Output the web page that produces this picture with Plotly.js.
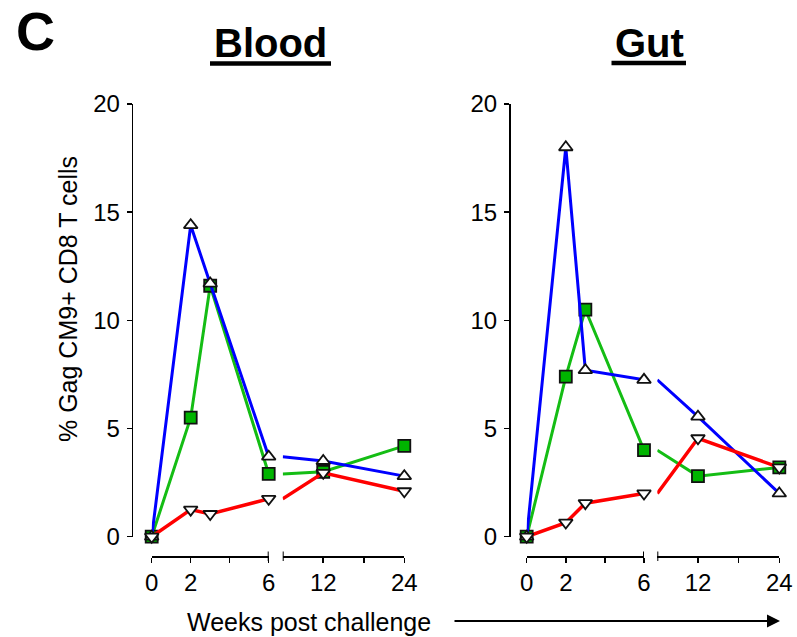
<!DOCTYPE html>
<html>
<head>
<meta charset="utf-8">
<script src="https://cdn.plot.ly/plotly-3.0.1.min.js"></script>
<style>html,body{margin:0;padding:0;background:#fff;}#chart{width:797px;height:637px;}</style>
</head>
<body>
<div id="chart"></div>
<script>
// ---- data ----
var weeks = [0, 2, 3, 6, 12, 24];
var bloodBlue  = [0, 14.4, 11.7, 3.7, 3.5, 2.8];
var bloodGreen = [0, 5.5, 11.6, 2.9, 3.0, 4.2];
var bloodRed   = [0, 1.25, 1.05, 1.75, 2.95, 2.1];
var gutBlue    = [0, 18.0, 7.7, 7.25, 5.55, 2.0];
var gutGreen   = [0, 7.4, 10.5, 4.0, 2.8, 3.2];
var gutRed     = [0, 0.65, 1.55, 2.0, 4.55, 3.2];
var yTicks = [0, 5, 10, 15, 20];
var earlyTicks = [0, 2, 4, 6];
var earlyText = ['0', '2', '', '6'];
var lateTicks = [12, 18, 24];
var lateText = ['12', '', '24'];
var breakWeek = 6;
var panelTitles = ['Blood', 'Gut'];
var yTitle = '% Gag CM9+ CD8 T cells';
var xTitle = 'Weeks post challenge';

// ---- styles ----
var W = 797, H = 637;
var FONT = 'Liberation Sans, Arial, sans-serif';
var BLUE = '#0000ff', RED = '#ff0000', GREEN = '#14bd14', GREENFILL = '#00b400';
function px(x){ return x / W; }
function py(y){ return 1 - y / H; }

var styles = {
  green: {line: GREEN, symbol: 'square', fill: GREENFILL, size: 12, width: 3},
  blue:  {line: BLUE, symbol: 'triangle-up', fill: '#ffffff', size: 12, width: 3},
  red:   {line: RED, symbol: 'triangle-down', fill: '#ffffff', size: 12, width: 3.5}
};

function segTraces(vals, st, xa1, xa2, ya) {
  var x1 = [], y1 = [], x2 = [], y2 = [], op2 = [];
  for (var i = 0; i < weeks.length; i++) {
    if (weeks[i] <= breakWeek) { x1.push(weeks[i]); y1.push(vals[i]); }
    if (weeks[i] >= breakWeek) { x2.push(weeks[i]); y2.push(vals[i]); op2.push(weeks[i] === breakWeek ? 0 : 1); }
  }
  var mk = {symbol: st.symbol, size: st.size, color: st.fill, line: {color: '#111', width: 1.8}};
  return [
    {x: x1, y: y1, xaxis: xa1, yaxis: ya, mode: 'lines+markers', cliponaxis: false,
     line: {color: st.line, width: st.width}, marker: mk, showlegend: false, hoverinfo: 'skip'},
    {x: x2, y: y2, xaxis: xa2, yaxis: ya, mode: 'lines+markers', cliponaxis: false,
     line: {color: st.line, width: st.width},
     marker: Object.assign({}, mk, {opacity: op2}), showlegend: false, hoverinfo: 'skip'}
  ];
}

var traces = []
  .concat(segTraces(bloodGreen, styles.green, 'x', 'x2', 'y'))
  .concat(segTraces(bloodBlue, styles.blue, 'x', 'x2', 'y'))
  .concat(segTraces(bloodRed, styles.red, 'x', 'x2', 'y'))
  .concat(segTraces(gutGreen, styles.green, 'x3', 'x4', 'y2'))
  .concat(segTraces(gutBlue, styles.blue, 'x3', 'x4', 'y2'))
  .concat(segTraces(gutRed, styles.red, 'x3', 'x4', 'y2'));

var yDom = [py(536.7), py(104)];
var xPos = py(556);
function xAxis(dom, range, tv, tt) {
  return {domain: dom, range: range, anchor: 'free', position: xPos,
    showline: true, linecolor: '#000', linewidth: 1.5, ticks: 'outside', ticklen: 5,
    tickwidth: 1.5, tickcolor: '#000', tickvals: tv, ticktext: tt,
    showgrid: false, zeroline: false, fixedrange: true,
    tickfont: {family: FONT, size: 24, color: '#000'}};
}
function yAxis(pos) {
  return {domain: yDom, range: [0, 20], anchor: 'free', position: pos,
    showline: true, linecolor: '#000', linewidth: 1.5, ticks: 'outside', ticklen: 5,
    tickwidth: 1.5, tickcolor: '#000', tickvals: yTicks, ticktext: yTicks.map(String),
    showgrid: false, zeroline: false, fixedrange: true, ticklabelstandoff: 2,
    tickfont: {family: FONT, size: 24, color: '#000'}};
}

var breakShapes = [];
[['x', 'x2'], ['x3', 'x4']].forEach(function(p){
  p.forEach(function(xr){
    breakShapes.push({type: 'line', xref: xr, yref: 'paper', x0: breakWeek, x1: breakWeek,
      y0: py(551.5), y1: py(561), line: {color: '#000', width: 2}});
  });
});

var layout = {
  width: W, height: H,
  margin: {l: 0, r: 0, t: 0, b: 0},
  paper_bgcolor: '#fff', plot_bgcolor: 'rgba(0,0,0,0)',
  showlegend: false,
  xaxis:  xAxis([px(151.7), px(268.7)], [0, 6], earlyTicks, earlyText),
  xaxis2: xAxis([px(282.7), px(404.3)], [6, 24], lateTicks, lateText),
  xaxis3: xAxis([px(526.7), px(644)], [0, 6], earlyTicks, earlyText),
  xaxis4: xAxis([px(657.3), px(779.3)], [6, 24], lateTicks, lateText),
  yaxis:  yAxis(px(131.7)),
  yaxis2: yAxis(px(509)),
  shapes: breakShapes.concat([
    {type: 'line', xref: 'paper', yref: 'paper', x0: px(210), x1: px(331), y0: py(63.5), y1: py(63.5), line: {color: '#000', width: 4.5}},
    {type: 'line', xref: 'paper', yref: 'paper', x0: px(611.5), x1: px(686), y0: py(63), y1: py(63), line: {color: '#000', width: 4.5}}
  ]),
  annotations: [
    {text: '<b>C</b>', xref: 'paper', yref: 'paper', x: px(35), y: py(31), xanchor: 'center', yanchor: 'middle', showarrow: false,
     font: {family: FONT, size: 54, color: '#000'}},
    {text: '<b>' + panelTitles[0] + '</b>', xref: 'paper', yref: 'paper', x: px(270.5), y: py(43), xanchor: 'center', yanchor: 'middle', showarrow: false,
     font: {family: FONT, size: 40, color: '#000'}},
    {text: '<b>' + panelTitles[1] + '</b>', xref: 'paper', yref: 'paper', x: px(649), y: py(43), xanchor: 'center', yanchor: 'middle', showarrow: false,
     font: {family: FONT, size: 40, color: '#000'}},
    {text: yTitle, xref: 'paper', yref: 'paper', x: px(68), y: py(299), xanchor: 'center', yanchor: 'middle', textangle: -90, showarrow: false,
     font: {family: FONT, size: 25, color: '#000'}},
    {text: xTitle, xref: 'paper', yref: 'paper', x: px(309), y: py(622), xanchor: 'center', yanchor: 'middle', showarrow: false,
     font: {family: FONT, size: 25, color: '#000'}},
    {text: '', xref: 'paper', yref: 'paper', x: px(780), y: py(621), ax: -327, ay: 0, axref: 'pixel', ayref: 'pixel',
     showarrow: true, arrowhead: 2, arrowsize: 1.3, arrowwidth: 2, arrowcolor: '#000'}
  ]
};

Plotly.newPlot('chart', traces, layout, {displayModeBar: false, staticPlot: true});
</script>
</body>
</html>
